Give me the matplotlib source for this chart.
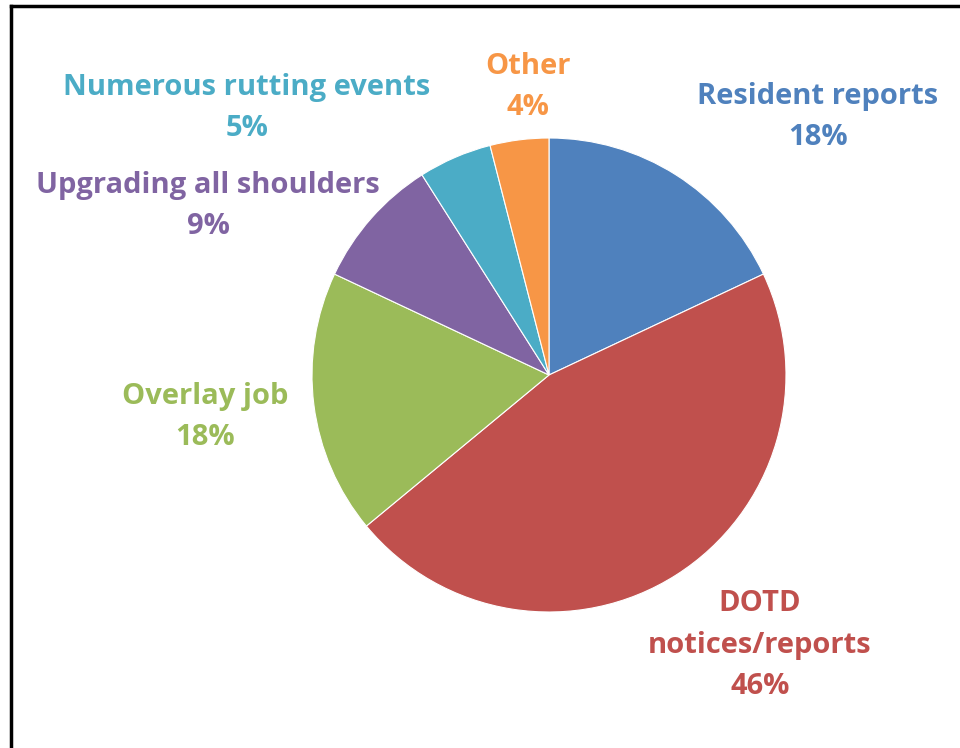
import matplotlib.pyplot as plt
from matplotlib.lines import Line2D

# data
labels = ['Resident reports', 'DOTD\nnotices/reports', 'Overlay job',
          'Upgrading all shoulders', 'Numerous rutting events', 'Other']
shares = [18, 46, 18, 9, 5, 4]
colors = ['#4F81BD', '#C0504D', '#9BBB59', '#8064A2', '#4BACC6', '#F79646']

# label block centres in pixels
label_pos = [(818, 117), (760, 645), (205, 417), (208, 206), (247, 108), (528, 87)]

W, H = 960, 748
fig = plt.figure(figsize=(W / 100, H / 100), dpi=100)

# pie centre (549, 375), radius 237 px
cx, cy, r = 549, 375, 237
ax = fig.add_axes([(cx - r) / W, (H - cy - r) / H, 2 * r / W, 2 * r / H])
ax.pie(shares, colors=colors, startangle=90, counterclock=False,
       wedgeprops=dict(edgecolor='white', linewidth=0.8))
ax.set_xlim(-1, 1)
ax.set_ylim(-1, 1)
ax.set_aspect('equal')
ax.axis('off')

for lab, val, col, (px, py) in zip(labels, shares, colors, label_pos):
    fig.text(px / W, 1 - py / H, f"{lab}\n{val}%", color=col, fontsize=21,
             fontweight='bold', family='Open Sans', ha='center', va='center',
             linespacing=1.55)

# frame lines on left and top only
fig.add_artist(Line2D([11 / W, 11 / W], [0, 1 - 6 / H], color='black', lw=2.5,
                      transform=fig.transFigure))
fig.add_artist(Line2D([11 / W, 1], [1 - 6 / H, 1 - 6 / H], color='black', lw=2.5,
                      transform=fig.transFigure))

fig.savefig('out.png', dpi=100)
